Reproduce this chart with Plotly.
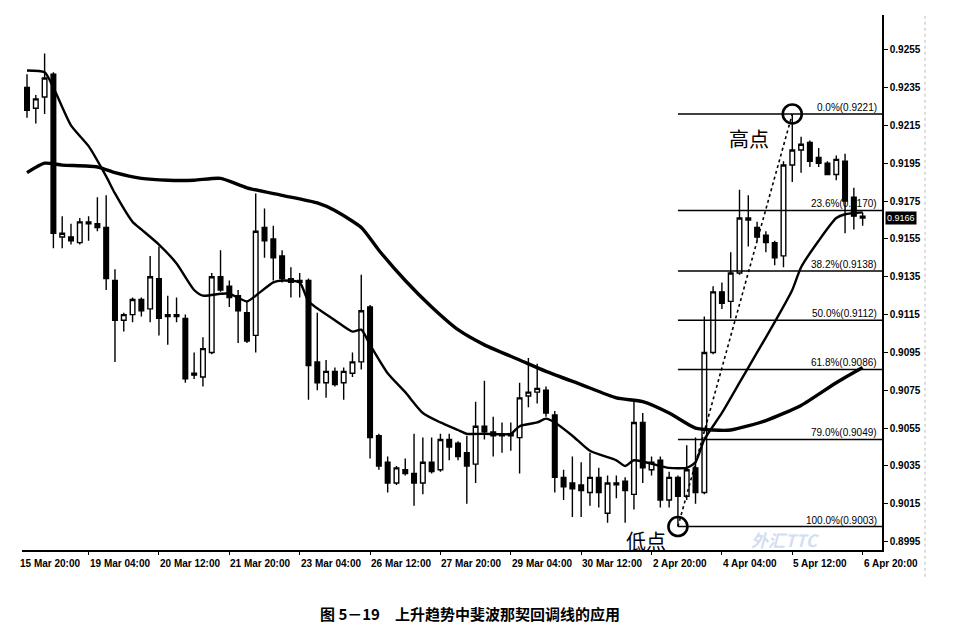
import plotly.graph_objects as go

# H4 bars, 16 Mar 00:00 .. 6 Apr 20:00 (index 0..95)
opens = [.9235, .9224, .9230, .9242, .9156, .9156, .9153, .9163, .9163, .9161,
         .9133, .9112, .9115, .9123, .9118, .9134, .9115, .9114, .9113, .9084,
         .9082, .9095, .9135, .9130, .9125, .9116, .9104, .9161, .9155, .9146,
         .9134, .9133, .9133, .9090, .9079, .9085, .9079, .9084, .9090, .9119,
         .9051, .9037, .9026, .9033, .9031, .9026, .9037, .9033, .9049, .9047,
         .9042, .9036, .9056, .9053, .9051, .9052, .9050, .9072, .9074, .9075,
         .9062, .9029, .9026, .9025, .9021, .9029, .9010, .9026, .9027, .9020,
         .9058, .9033, .9038, .9017, .9029, .9019, .9034, .9021, .9095, .9127,
         .9122, .9137, .9166, .9161, .9157, .9153, .9146, .9194, .9202, .9206,
         .9198, .9195, .9189, .9196, .9177, .9167]
highs = [.9242, .9231, .9253, .9243, .9167, .9163, .9166, .9167, .9177, .9178,
         .9139, .9116, .9124, .9124, .9146, .9151, .9125, .9124, .9115, .9095,
         .9103, .9137, .9149, .9133, .9128, .9122, .9179, .9171, .9162, .9149,
         .9140, .9137, .9134, .9116, .9091, .9087, .9087, .9095, .9136, .9120,
         .9052, .9040, .9035, .9039, .9052, .9050, .9050, .9052, .9052, .9048,
         .9051, .9069, .9080, .9061, .9058, .9058, .9079, .9092, .9089, .9077,
         .9064, .9033, .9040, .9037, .9042, .9034, .9030, .9030, .9029, .9070,
         .9063, .9040, .9040, .9032, .9030, .9046, .9050, .9114, .9130, .9132,
         .9148, .9181, .9178, .9164, .9159, .9154, .9196, .9221, .9209, .9207,
         .9203, .9196, .9199, .9200, .9182, .9169]
lows = [.9219, .9216, .9221, .9150, .9150, .9152, .9152, .9154, .9159, .9128,
        .9090, .9106, .9111, .9114, .9111, .9104, .9099, .9111, .9079, .9081,
        .9077, .9094, .9127, .9119, .9100, .9100, .9095, .9145, .9133, .9132,
        .9124, .9124, .9070, .9075, .9071, .9077, .9070, .9082, .9086, .9039,
        .9033, .9021, .9025, .9030, .9014, .9020, .9031, .9032, .9038, .9038,
        .9015, .9026, .9049, .9040, .9042, .9043, .9031, .9066, .9068, .9061,
        .9021, .9017, .9008, .9008, .9014, .9013, .9005, .9018, .9005, .9012,
        .9026, .9030, .9013, .9013, .9003, .9017, .9015, .9020, .9094, .9118,
        .9113, .9136, .9151, .9154, .9148, .9141, .9140, .9185, .9190, .9193,
        .9193, .9189, .9186, .9158, .9160, .9162]
closes = [.9223, .9229, .9240, .9158, .9158, .9154, .9164, .9164, .9161, .9134,
          .9112, .9115, .9123, .9117, .9135, .9113, .9114, .9115, .9081, .9083,
          .9097, .9135, .9128, .9124, .9117, .9101, .9159, .9154, .9145, .9134,
          .9132, .9132, .9088, .9079, .9085, .9078, .9085, .9090, .9117, .9050,
          .9035, .9026, .9034, .9031, .9026, .9037, .9032, .9049, .9045, .9040,
          .9035, .9056, .9053, .9051, .9052, .9051, .9071, .9074, .9076, .9063,
          .9029, .9024, .9023, .9022, .9029, .9021, .9026, .9025, .9022, .9058,
          .9034, .9037, .9017, .9029, .9019, .9033, .9021, .9095, .9127, .9121,
          .9137, .9166, .9165, .9156, .9153, .9145, .9194, .9202, .9205, .9196,
          .9195, .9189, .9197, .9175, .9167, .9166]

# moving averages (bar index, price)
fast_idx = [0, 2, 3, 5, 7, 9, 10, 12, 13, 15, 17, 19, 20, 22, 23, 25, 26, 28, 29, 31,
            32, 35, 37, 38, 39, 41, 43, 45, 47, 49, 50, 52, 55, 56, 58, 59, 60, 62, 64, 67,
            68, 69, 72, 73, 75, 76, 77, 79, 81, 83, 85, 87, 88, 90, 92, 93, 95]
fast_val = [.9244, .9243, .9235, .9215, .9204, .9188, .9179, .9164, .9160, .9152,
            .9142, .9128, .9125, .9126, .9126, .9122, .9125, .9132, .9133, .9132,
            .9122, .9112, .9106, .9107, .9099, .9084, .9074, .9063, .9058, .9054,
            .9052, .9052, .9052, .9056, .9058, .9060, .9058, .9051, .9043, .9038,
            .9035, .9038, .9035, .9034, .9034, .9037, .9049, .9063, .9079, .9095,
            .9111, .9128, .9140, .9154, .9166, .9168, .9169]
slow_idx = [0, 2, 4, 8, 10, 13, 16, 19, 22, 25, 29, 33, 35, 38, 40, 43, 46, 49, 52, 56,
            59, 63, 67, 70, 73, 76, 78, 80, 84, 88, 92, 95]
slow_val = [.9190, .9195, .9194, .9193, .9190, .9187, .9186, .9186, .9187, .9182,
            .9178, .9174, .9170, .9161, .9149, .9133, .9119, .9107, .9099, .9091,
            .9085, .9078, .9071, .9069, .9063, .9055, .9054, .9054, .9059, .9067,
            .9079, .9087]

tick_idx = [-1, 7, 15, 23, 31, 39, 47, 55, 63, 71, 79, 87, 95]
tick_text = ["15 Mar 20:00", "19 Mar 04:00", "20 Mar 12:00", "21 Mar 20:00",
             "23 Mar 04:00", "26 Mar 12:00", "27 Mar 20:00", "29 Mar 04:00",
             "30 Mar 12:00", "2 Apr 20:00", "4 Apr 04:00", "5 Apr 12:00", "6 Apr 20:00"]
y_ticks = [0.8995, 0.9015, 0.9035, 0.9055, 0.9075, 0.9095, 0.9115, 0.9135,
           0.9155, 0.9175, 0.9195, 0.9215, 0.9235, 0.9255]

fib_pct = ["0.0%", "23.6%", "38.2%", "50.0%", "61.8%", "79.0%", "100.0%"]
fib_price = [0.9221, 0.9170, 0.9138, 0.9112, 0.9086, 0.9049, 0.9003]
low_idx, high_idx = 74, 87
last_price = 0.9166

xr = [-0.57, 97.2]
yr = [0.89906, 0.92733]
bars = list(range(len(opens)))
font_lat = "Liberation Sans"
font_cjk = "Noto Sans CJK SC"

fig = go.Figure()
fig.add_trace(go.Candlestick(
    x=bars, open=opens, high=highs, low=lows, close=closes,
    increasing=dict(line=dict(color="black", width=1.4), fillcolor="white"),
    decreasing=dict(line=dict(color="black", width=1.4), fillcolor="black"),
    whiskerwidth=0, showlegend=False, hoverinfo="skip"))
fig.add_trace(go.Scatter(x=fast_idx, y=fast_val, mode="lines",
                         line=dict(color="black", width=2.4, shape="spline", smoothing=0.6),
                         showlegend=False, hoverinfo="skip"))
fig.add_trace(go.Scatter(x=slow_idx, y=slow_val, mode="lines",
                         line=dict(color="black", width=3.4, shape="spline", smoothing=0.6),
                         showlegend=False, hoverinfo="skip"))

# Fibonacci levels
for pct, price in zip(fib_pct, fib_price):
    fig.add_shape(type="line", xref="x", yref="y", x0=low_idx, x1=xr[1],
                  y0=price, y1=price, line=dict(color="black", width=1.4))
    fig.add_annotation(xref="paper", yref="y", x=1, y=price, xanchor="right",
                       yanchor="bottom", xshift=-3, yshift=-1, showarrow=False,
                       text=f"{pct}({price:.4f})",
                       font=dict(family=font_lat, size=10, color="black"))

# low -> high swing
fig.add_trace(go.Scatter(x=[low_idx, high_idx], y=[fib_price[-1], fib_price[0]],
                         mode="lines", line=dict(color="black", width=1.6, dash="dot"),
                         showlegend=False, hoverinfo="skip"))
fig.add_trace(go.Scatter(x=[low_idx, high_idx], y=[fib_price[-1], fib_price[0]],
                         mode="markers",
                         marker=dict(symbol="circle-open", size=19, color="black",
                                     line=dict(width=2.6, color="black")),
                         showlegend=False, hoverinfo="skip"))
fig.add_annotation(x=high_idx, y=fib_price[0], text="高点", showarrow=False,
                   xshift=-43, yshift=-25, font=dict(family=font_cjk, size=20, color="black"))
fig.add_annotation(x=low_idx, y=fib_price[-1], text="低点", showarrow=False,
                   xshift=-32, yshift=-14, font=dict(family=font_cjk, size=20, color="black"))

# current price box
fig.add_annotation(xref="paper", yref="y", x=1, y=last_price, xanchor="left",
                   xshift=3, showarrow=False, text=f"{last_price:.4f}", bgcolor="black",
                   borderpad=1, font=dict(family=font_lat, size=9, color="white"))

# time labels, left aligned at their ticks
for i, t in zip(tick_idx, tick_text):
    if i < xr[0]:
        fig.add_annotation(xref="paper", yref="paper", x=(i - xr[0]) / (xr[1] - xr[0]),
                           y=0, xanchor="left", yanchor="top", yshift=-6, showarrow=False,
                           text=t, font=dict(family=font_lat, size=10, color="black", weight="bold"))
    else:
        fig.add_annotation(xref="x", yref="paper", x=i, y=0, xanchor="left",
                           yanchor="top", yshift=-6, xshift=-1, showarrow=False, text=t,
                           font=dict(family=font_lat, size=10, color="black", weight="bold"))

# watermark
fig.add_annotation(xref="paper", yref="paper", x=0.93, y=0.019, showarrow=False,
                   yanchor="middle", text="<i><b>外汇TTC</b></i>", opacity=0.35,
                   font=dict(family=font_cjk, size=17, color="#7fa4d8"))

# caption
fig.add_annotation(xref="paper", yref="paper", x=0.521, y=-0.118, showarrow=False,
                   yanchor="middle",
                   text="图 5－19　上升趋势中斐波那契回调线的应用",
                   font=dict(family=font_cjk, size=15, color="black", weight="bold"))

# dotted page edge at right
fig.add_shape(type="line", xref="paper", yref="paper", x0=1.05, x1=1.05, y0=-0.05, y1=1.0,
              line=dict(color="#bbbbbb", width=1, dash="dot"))

# the page body keeps an 8px margin, so the figure is 8px smaller
fig.update_layout(
    width=959, height=629,
    margin=dict(l=14, r=85, t=7, b=87),
    paper_bgcolor="white", plot_bgcolor="white",
    showlegend=False, boxgap=0.25,
    xaxis=dict(range=xr, rangeslider=dict(visible=False), showgrid=False, zeroline=False,
               showline=True, linecolor="black", linewidth=1.5, ticks="outside",
               tickvals=tick_idx, ticklen=3, tickcolor="black", showticklabels=False),
    yaxis=dict(range=yr, side="right", showgrid=False, zeroline=False, showline=True,
               linecolor="black", linewidth=1.5, ticks="outside", ticklen=4,
               tickcolor="black", tickvals=y_ticks, tickformat=".4f",
               tickfont=dict(family=font_lat, size=10, color="black", weight="bold")),
)

fig.write_html("out.html")
